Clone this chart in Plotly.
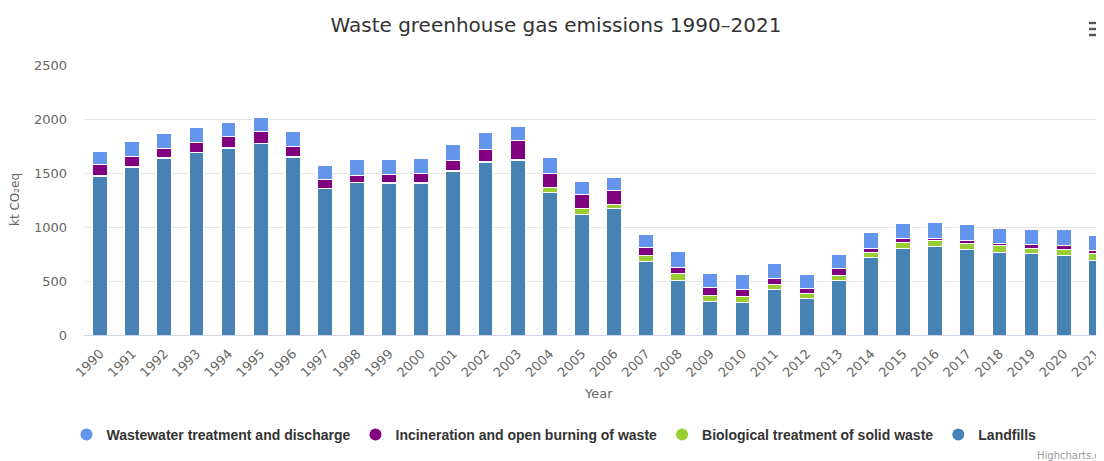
import plotly.graph_objects as go

years = [str(y) for y in range(1990, 2022)]

landfills = [1470, 1555, 1635, 1687, 1730, 1770, 1647, 1355, 1410, 1405, 1407, 1515, 1600, 1620,
             1320, 1118, 1173, 680, 505, 310, 300, 420, 335, 502, 714, 804, 822, 795, 763, 751, 739, 693]
biological = [5, 5, 5, 5, 5, 5, 5, 5, 5, 5, 6, 6, 6, 8,
              50, 55, 35, 52, 65, 55, 60, 52, 53, 52, 53, 49, 52, 49, 62, 49, 56, 65]
incineration = [100, 90, 88, 93, 100, 108, 90, 77, 65, 72, 80, 95, 115, 170,
                130, 127, 127, 80, 55, 75, 65, 52, 40, 59, 30, 43, 22, 34, 25, 37, 37, 27]
wastewater = [120, 140, 140, 135, 130, 127, 138, 135, 142, 140, 140, 145, 150, 137,
              140, 125, 125, 123, 150, 133, 132, 135, 132, 129, 148, 135, 148, 141, 139, 136, 141, 135]

series = [
    ("Landfills", landfills, "#4682B4"),
    ("Biological treatment of solid waste", biological, "#9ACD32"),
    ("Incineration and open burning of waste", incineration, "#800080"),
    ("Wastewater treatment and discharge", wastewater, "#6495ED"),
]
legend_order = [
    "Wastewater treatment and discharge",
    "Incineration and open burning of waste",
    "Biological treatment of solid waste",
    "Landfills",
]

fig = go.Figure()
for name, vals, col in series:
    fig.add_trace(go.Bar(
        x=years, y=vals, name=name, marker=dict(color=col, line=dict(color="white", width=1)),
        showlegend=False, legendgroup=name,
    ))
colors = {n: c for n, _, c in series}
for i, name in enumerate(legend_order):
    fig.add_trace(go.Scatter(
        x=[None], y=[None], mode="markers", name=name, legendgroup=name,
        marker=dict(color=colors[name], size=12, symbol="circle"), legendrank=i + 1,
    ))

# page body has an 8px margin: work in page pixels and subtract it
OFF = 8
W, H = 1104 - OFF, 461 - OFF
L = 84 - OFF
T = 65 - OFF
B = H - (335 - OFF)
plot_w = W - L
plot_h = H - T - B
band = 32.12


def px_x(px):
    return (px - OFF - L) / plot_w


def px_y(py):
    return (T + plot_h - (py - OFF)) / plot_h


fig.update_layout(
    width=W, height=H,
    margin=dict(l=L, r=0, t=T, b=B),
    barmode="stack", bargap=0.54,
    plot_bgcolor="white", paper_bgcolor="white",
    font=dict(family="DejaVu Sans", color="#666666"),
    title=dict(text="Waste greenhouse gas emissions 1990–2021", x=(556 - OFF) / W, xanchor="center",
               y=1 - (25 - OFF) / H, yanchor="middle", yref="container",
               font=dict(size=20, color="#333333", family="DejaVu Sans")),
    xaxis=dict(range=[-0.5, plot_w / band - 0.5], tickangle=-45, showgrid=False,
               showline=True, linecolor="#ccd6eb", ticks="", ticklabelstandoff=5,
               tickfont=dict(size=13, color="#666666", family="DejaVu Sans"), fixedrange=True),
    yaxis=dict(range=[0, 2500], dtick=500, showgrid=True, gridcolor="#e6e6e6",
               zeroline=False, ticks="", ticklabelstandoff=16,
               tickfont=dict(size=13, color="#666666", family="DejaVu Sans")),
    legend=dict(orientation="h", x=(554 - OFF) / W, xref="container", xanchor="center",
                y=1 - (435 - OFF) / H, yref="container", yanchor="middle",
                font=dict(size=14, color="#333333", family="Liberation Sans", weight="bold"),
                itemwidth=30, traceorder="normal"),
    annotations=[
        dict(text="Year", x=px_x(598), y=px_y(393),
             xref="paper", yref="paper", showarrow=False, yanchor="middle",
             font=dict(size=13, color="#666666", family="DejaVu Sans")),
        dict(text="kt CO₂eq", x=px_x(15), y=px_y(200),
             xref="paper", yref="paper", showarrow=False, textangle=-90, xanchor="center",
             yanchor="middle", font=dict(size=12, color="#666666", family="DejaVu Sans")),
        dict(text="Highcharts.com", x=px_x(1035), y=px_y(455), xref="paper", yref="paper",
             showarrow=False, xanchor="left", yanchor="middle",
             font=dict(size=10, color="#999999", family="DejaVu Sans")),
    ],
)

# hamburger menu icon (three filled bars)
for yy in (23, 29, 35):
    fig.add_shape(type="rect", xref="paper", yref="paper",
                  x0=px_x(1089), x1=px_x(1103), y0=px_y(yy - 1.2), y1=px_y(yy + 1.2),
                  fillcolor="#555555", line=dict(width=0))

fig.write_html("out.html")
